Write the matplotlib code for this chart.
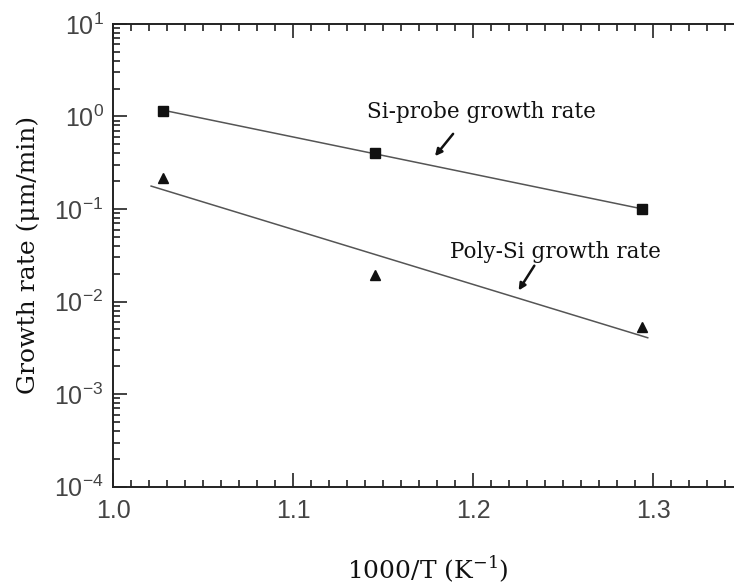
import numpy as np
import matplotlib
matplotlib.use("Agg")
import matplotlib.pyplot as plt
from matplotlib.ticker import MultipleLocator, LogLocator, NullFormatter

# data
inv_T = [1.0277, 1.1455, 1.2937]          # 1000/T (1/K)
si_probe = [1.16, 0.40, 0.10]             # um/min
poly_si = [0.215, 0.0193, 0.00534]        # um/min
si_fit_range = [1.0277, 1.2937]
poly_fit_range = [1.021, 1.297]

serif = "DejaVu Serif"
sans = "Liberation Sans"
tick_col = "#444444"

fig = plt.figure(figsize=(7.34, 5.88), dpi=100)
ax = fig.add_axes([0.1544, 0.1723, 0.858, 0.787])

# fits in log space
x = np.array(inv_T)
for ys, xr in [(si_probe, si_fit_range), (poly_si, poly_fit_range)]:
    k, b = np.polyfit(x, np.log10(ys), 1)
    xf = np.array(xr)
    ax.plot(xf, 10 ** (k * xf + b), color="#555555", lw=1.1, zorder=2)

ax.plot(inv_T, si_probe, "s", color="#111111", ms=7, zorder=3)
ax.plot(inv_T, poly_si, "^", color="#111111", ms=7.5, zorder=3)

ax.set_yscale("log")
ax.set_xlim(1.0, 1.35)
ax.set_ylim(1e-4, 1e1)
ax.xaxis.set_major_locator(MultipleLocator(0.1))
ax.xaxis.set_minor_locator(MultipleLocator(0.01))
ax.yaxis.set_major_locator(LogLocator(base=10, numticks=10))
ax.yaxis.set_minor_locator(LogLocator(base=10, subs=np.arange(2, 10), numticks=10))
ax.yaxis.set_minor_formatter(NullFormatter())
ax.xaxis.set_major_formatter(matplotlib.ticker.FormatStrFormatter("%.1f"))

ax.tick_params(which="both", direction="in", top=True, right=False,
               width=1.2, colors="#222222", labelcolor=tick_col, labelsize=18)
ax.tick_params(which="major", length=10)
ax.tick_params(which="minor", length=5)
ax.tick_params(axis="x", pad=9)
ax.tick_params(axis="y", pad=7)
for lab in ax.get_xticklabels() + ax.get_yticklabels():
    lab.set_family(sans)
for sp in ax.spines.values():
    sp.set_linewidth(1.4)
    sp.set_color("#222222")

ax.set_xlabel("1000/T (K$^{\\mathdefault{-1}}$)", fontsize=18, family=serif,
              color="#111111", labelpad=22)
ax.set_ylabel("Growth rate (\u03bcm/min)", fontsize=18, family=serif,
              color="#111111", labelpad=10)

ax.annotate("", xy=(1.1778, 0.353), xytext=(1.1898, 0.685),
            arrowprops=dict(arrowstyle="-|>", color="#111111", lw=1.8,
                            mutation_scale=10))
ax.text(1.141, 0.964, "Si-probe growth rate", fontsize=15.5, family=serif,
        color="#111111", va="baseline")

ax.annotate("", xy=(1.2244, 0.01245), xytext=(1.2348, 0.0259),
            arrowprops=dict(arrowstyle="-|>", color="#111111", lw=1.8,
                            mutation_scale=10))
ax.text(1.187, 0.0295, "Poly-Si growth rate", fontsize=15.5, family=serif,
        color="#111111", va="baseline")

fig.savefig("out.png", dpi=100)
